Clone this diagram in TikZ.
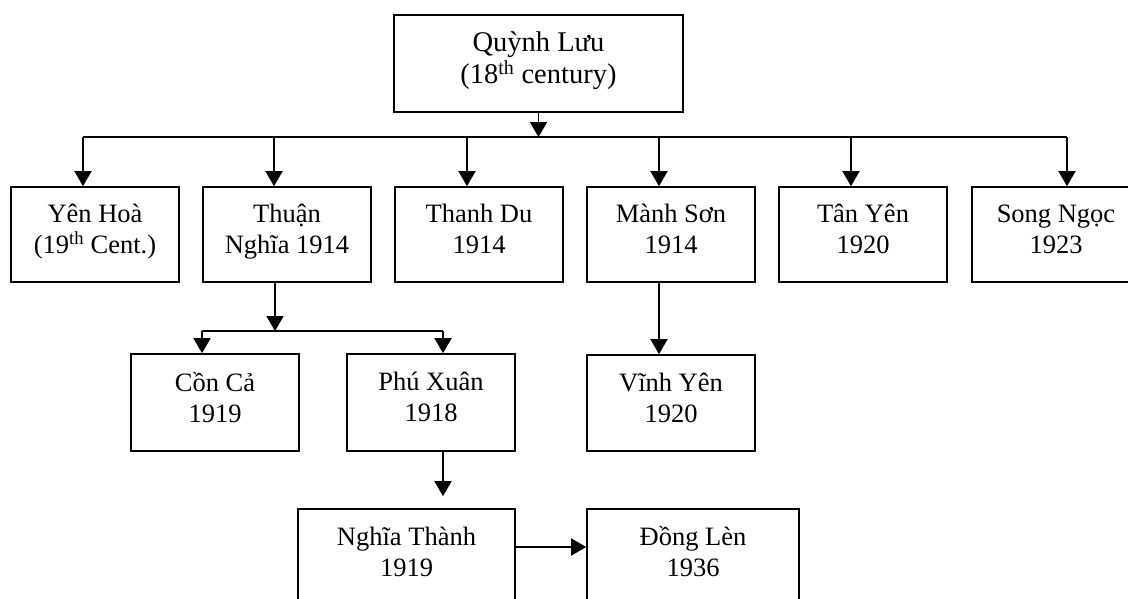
\documentclass[tikz,border=0pt]{standalone}
\usepackage{fontspec}
\setmainfont{Liberation Serif}
\usetikzlibrary{arrows.meta,calc}
\begin{document}
\begin{tikzpicture}[x=1pt,y=-1pt,
  box/.style={draw,line width=1.7pt,rectangle,inner sep=0pt,align=center,
    font=\fontsize{26.5pt}{31pt}\selectfont,
    execute at end node={\rule[-11pt]{0pt}{0pt}}},
  bigbox/.style={box,font=\fontsize{28.5pt}{32pt}\selectfont},
  arr/.style={line width=1.7pt,-{Triangle[width=17pt,length=15pt]}},
  ln/.style={line width=1.7pt}]
\clip (0,0) rectangle (1128,598);
\fill[white] (0,0) rectangle (1128,598);
% nodes
\node[bigbox,minimum width=289pt,minimum height=97pt] (ql) at (538.5,63.5) {Quỳnh Lưu\\(18\textsuperscript{th} century)};
\node[box,minimum width=168pt,minimum height=95pt] (yh) at (95,234.5) {Yên Hoà\\(19\textsuperscript{th} Cent.)};
\node[box,minimum width=168pt,minimum height=95pt] (tn) at (287,234.5) {Thuận\\Nghĩa 1914};
\node[box,minimum width=168pt,minimum height=95pt] (td) at (479,234.5) {Thanh Du\\1914};
\node[box,minimum width=168pt,minimum height=95pt] (ms) at (671,234.5) {Mành Sơn\\1914};
\node[box,minimum width=168pt,minimum height=95pt] (ty) at (863,234.5) {Tân Yên\\1920};
\node[box,minimum width=168pt,minimum height=95pt] (sn) at (1056,234.5) {Song Ngọc\\1923};
\node[box,minimum width=168pt,minimum height=97pt] (cc) at (215,402.5) {Cồn Cả\\1919};
\node[box,minimum width=168pt,minimum height=97pt] (px) at (431,402.5) {Phú Xuân\\1918};
\node[box,minimum width=168pt,minimum height=96pt] (vy) at (671,403) {Vĩnh Yên\\1920};
\node[box,minimum width=217pt,minimum height=96pt] (nt) at (406.5,557) {Nghĩa Thành\\1919};
\node[box,minimum width=212pt,minimum height=96pt] (dl) at (693,557) {Đồng Lèn\\1936};
% top connectors
\coordinate (bar) at (538.5,137);
\coordinate (yhin) at ([xshift=-12pt]yh.north);
\coordinate (tnin) at ([xshift=-13pt]tn.north);
\coordinate (tdin) at ([xshift=-12pt]td.north);
\coordinate (msin) at ([xshift=-12pt]ms.north);
\coordinate (tyin) at ([xshift=-12pt]ty.north);
\coordinate (snin) at ([xshift=11pt]sn.north);
\draw[arr] (ql.south) -- (ql.south |- bar);
\draw[ln] (yhin |- bar) -- (snin |- bar);
\foreach \c in {yhin,tnin,tdin,msin,tyin,snin}
  \draw[arr] (\c |- bar) -- (\c);
% Thuan Nghia branch
\coordinate (sub) at (275,331);
\coordinate (tnout) at ([xshift=-12pt]tn.south);
\coordinate (ccin) at ([xshift=-13pt]cc.north);
\coordinate (pxin) at ([xshift=12pt]px.north);
\draw[arr] (tnout) -- (tnout |- sub);
\draw[ln] (ccin |- sub) -- (pxin |- sub);
\draw[arr] (ccin |- sub) -- (ccin);
\draw[arr] (pxin |- sub) -- (pxin);
% Manh Son -> Vinh Yen
\draw[arr] ([xshift=-12pt]ms.south) -- ([xshift=-12pt]vy.north);
% Phu Xuan -> Nghia Thanh
\draw[arr] ([xshift=12pt]px.south) -- ([xshift=12pt,yshift=12pt]px.south |- nt.north);
% Nghia Thanh -> Dong Len
\draw[arr] ([yshift=10pt]nt.east) -- ([yshift=10pt]dl.west);
\end{tikzpicture}
\end{document}
